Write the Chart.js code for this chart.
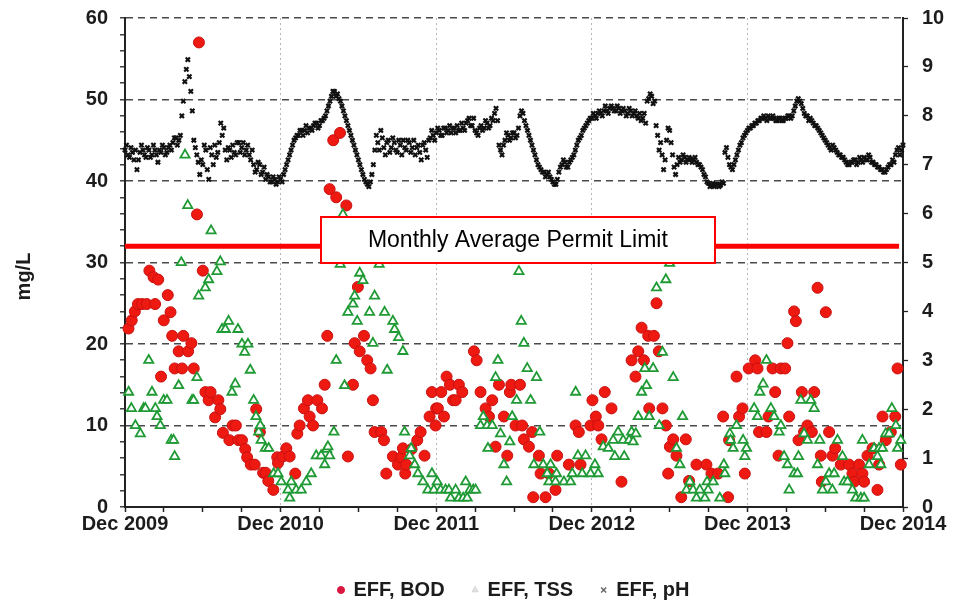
<!DOCTYPE html>
<html>
<head>
<meta charset="utf-8">
<script src="https://cdn.jsdelivr.net/npm/chart.js@4.4.1/dist/chart.umd.min.js"></script>
<style>
  html, body { margin: 0; padding: 0; background: #ffffff; }
  #wrap { width: 953px; height: 603px; }
</style>
</head>
<body>
<div id="wrap"><canvas id="chart" width="953" height="603"></canvas></div>
<script>
// Axis labels: one per December, x measured in months since Dec 2009
const yearLabels = ['Dec 2009', 'Dec 2010', 'Dec 2011', 'Dec 2012', 'Dec 2013', 'Dec 2014'];

// Effluent BOD samples: [months since Dec 2009, mg/L]
const bodSamples = [
  [0.27,21.9],[0.52,22.9],[0.76,24.0],[1.0,24.9],[1.31,24.9],[1.68,24.9],[1.88,29.0],[2.2,28.2],
  [2.32,24.9],[2.56,27.9],[2.78,16.0],[2.99,22.9],[3.3,26.0],[3.51,23.9],[3.64,21.0],[3.83,17.0],
  [4.14,19.1],[4.4,17.0],[4.5,21.0],[4.87,19.1],[5.12,20.1],[5.3,17.0],[5.55,35.9],[5.7,57.0],
  [6.0,29.0],[6.2,14.1],[6.45,13.1],[6.6,14.1],[6.95,11.0],[7.2,13.1],[7.35,12.0],[7.55,9.1],
  [8.05,8.2],[8.3,10.0],[8.55,10.0],[8.75,8.2],[9.02,8.2],[9.27,7.1],[9.42,6.1],[9.7,5.2],
  [10.0,5.2],[10.12,12.0],[10.4,9.2],[10.65,4.2],[10.85,4.2],[11.05,3.2],[11.44,2.1],[11.74,6.1],
  [11.8,5.4],[12.18,6.2],[12.44,7.2],[12.7,6.2],[13.13,4.1],[13.29,9.0],[13.47,10.0],[13.8,12.1],
  [14.11,13.1],[14.24,11.1],[14.5,10.0],[14.83,13.1],[15.19,12.1],[15.4,15.0],[15.6,21.0],[15.78,39.0],
  [16.06,45.0],[16.29,38.0],[16.58,45.9],[17.07,37.0],[17.19,6.2],[17.58,15.0],[17.71,20.1],[17.96,27.0],
  [18.1,19.1],[18.43,21.0],[18.68,18.0],[18.94,17.0],[19.12,13.1],[19.25,9.2],[19.76,9.2],[19.97,8.2],
  [20.15,4.1],[20.66,6.2],[21.05,5.2],[21.3,6.1],[21.43,7.2],[21.61,4.1],[21.69,5.2],[22.1,7.1],
  [22.54,8.2],[22.8,9.2],[23.1,6.3],[23.49,11.1],[23.67,14.1],[23.95,10.0],[24.0,12.1],[24.13,12.1],
  [24.39,14.1],[24.6,11.1],[24.8,16.0],[25.06,15.0],[25.3,13.1],[25.5,13.1],[25.75,15.0],[26.01,14.1],
  [26.91,19.1],[27.12,18.0],[27.42,14.1],[27.81,12.1],[28.07,11.1],[28.32,13.1],[28.58,7.4],[28.84,15.0],
  [29.22,11.1],[29.48,6.3],[29.68,14.1],[29.79,15.0],[30.12,10.0],[30.46,15.0],[30.63,10.0],[30.76,8.3],
  [31.15,7.4],[31.4,9.2],[31.48,1.2],[31.92,6.3],[32.05,4.1],[32.43,1.2],[32.69,4.1],[33.2,2.1],
  [33.33,6.3],[34.23,5.2],[34.75,10.0],[35.0,9.2],[35.13,5.2],[35.9,10.0],[36.05,13.1],[36.31,11.1],
  [36.5,10.0],[36.75,8.3],[37.0,14.1],[37.52,12.1],[38.29,3.1],[39.07,18.0],[39.37,16.0],[39.58,19.1],
  [39.84,22.0],[40.02,18.0],[40.35,21.0],[40.43,12.1],[40.79,21.0],[40.99,25.0],[41.17,19.1],[41.45,12.1],
  [41.71,10.0],[41.89,4.1],[42.02,7.4],[42.28,8.3],[42.53,6.3],[42.9,1.2],[43.25,8.3],[43.5,3.2],
  [44.07,5.2],[44.84,5.2],[45.23,4.1],[45.74,4.1],[46.13,11.1],[46.51,1.2],[46.59,8.2],[47.16,16.0],
  [47.36,11.1],[47.62,12.1],[47.8,4.1],[48.1,17.0],[48.6,18.0],[48.78,17.0],[48.9,9.2],[49.47,9.2],
  [49.63,11.1],[49.94,17.0],[50.14,14.1],[50.4,6.3],[50.58,17.0],[50.91,17.0],[51.09,20.1],[51.22,11.1],
  [51.6,24.0],[51.74,22.8],[51.94,8.2],[52.2,14.1],[52.37,9.2],[52.63,10.0],[52.97,9.2],[53.15,14.1],
  [53.41,26.9],[53.66,6.3],[53.74,3.1],[54.05,23.9],[54.3,9.2],[54.56,6.3],[54.77,7.2],[55.2,5.2],
  [55.84,5.2],[56.1,4.1],[56.23,3.1],[56.61,5.2],[56.87,4.1],[57.0,3.1],[57.26,6.3],[57.65,7.2],
  [58.03,2.1],[58.16,5.2],[58.42,11.1],[58.67,8.2],[59.06,9.2],[59.4,11.1],[59.58,17.0],[59.83,5.2]
];

// Effluent TSS samples: [months since Dec 2009, mg/L]
const tssSamples = [
  [0.28,14.1],[0.49,12.1],[0.8,10.0],[1.18,9.0],[1.44,12.1],[1.57,12.1],[1.83,18.0],[2.08,14.1],
  [2.34,12.1],[2.47,11.1],[2.72,10.0],[2.98,13.1],[3.24,13.1],[3.57,8.2],[3.75,8.2],[3.83,6.2],
  [4.14,14.9],[4.34,30.0],[4.63,43.2],[4.84,37.0],[5.17,13.1],[5.29,13.1],[5.55,15.9],[5.68,25.9],
  [6.19,26.9],[6.45,27.9],[6.64,33.9],[7.09,28.9],[7.35,30.1],[7.48,21.8],[7.74,21.8],[7.99,22.8],
  [8.25,14.1],[8.5,15.1],[8.71,21.8],[9.02,20.0],[9.23,19.0],[9.48,20.0],[9.66,16.8],[9.92,13.1],
  [10.1,11.1],[10.31,9.2],[10.43,10.0],[10.5,8.2],[10.82,7.2],[11.08,7.2],[11.46,4.1],[11.8,4.1],
  [12.05,3.1],[12.57,2.1],[12.7,1.1],[12.82,3.1],[13.2,2.1],[13.59,2.1],[13.98,3.1],[14.36,4.1],
  [14.75,6.3],[15.13,6.3],[15.4,5.2],[15.55,7.1],[15.65,7.4],[15.78,6.3],[16.11,9.2],[16.29,18.0],
  [16.6,29.8],[16.81,35.9],[16.93,14.9],[17.19,23.9],[17.58,24.9],[17.71,25.9],[17.91,22.8],[18.1,28.7],
  [18.35,27.8],[18.86,23.9],[19.12,20.1],[19.25,25.9],[19.6,29.8],[20.02,23.9],[20.22,16.8],[20.66,22.8],
  [20.79,21.8],[21.1,20.8],[21.43,19.1],[21.56,9.2],[21.95,6.3],[22.07,7.2],[22.34,5.2],[22.59,4.1],
  [22.98,3.1],[23.36,2.1],[23.67,4.1],[23.82,2.1],[24.08,3.1],[24.34,2.1],[24.72,2.1],[24.98,2.1],
  [25.11,1.1],[25.5,2.1],[25.75,1.1],[26.08,1.1],[26.27,3.1],[26.39,1.1],[26.6,2.1],[26.86,2.1],
  [27.04,2.1],[27.42,10.0],[27.63,11.1],[27.93,10.0],[27.99,7.2],[28.32,10.0],[28.58,15.9],[28.76,18.0],
  [28.96,9.0],[29.22,5.2],[29.43,3.1],[29.68,8.0],[29.86,11.1],[30.2,13.1],[30.38,28.9],[30.56,22.8],
  [30.76,20.1],[31.02,17.0],[31.28,13.1],[31.53,5.2],[31.74,15.9],[31.99,9.2],[32.25,5.2],[32.56,4.1],
  [32.69,3.1],[32.82,5.2],[33.2,3.1],[33.28,4.1],[33.85,3.1],[34.36,3.1],[34.49,4.1],[34.75,14.1],
  [34.93,6.3],[35.26,4.1],[35.52,6.3],[35.9,4.1],[36.24,5.2],[36.49,4.1],[36.88,7.4],[37.27,7.2],
  [37.65,8.2],[37.78,6.2],[38.03,9.2],[38.42,8.2],[38.5,6.2],[38.88,8.2],[39.07,9.2],[39.19,8.0],
  [39.4,9.0],[39.58,11.1],[39.84,14.1],[40.09,17.0],[40.22,14.9],[40.43,11.1],[40.73,17.0],[40.99,26.9],
  [41.2,10.0],[41.45,19.0],[41.71,27.9],[42.0,29.9],[42.28,15.9],[42.53,7.2],[42.79,5.2],[43.0,11.1],
  [43.3,2.1],[43.56,3.1],[43.81,2.1],[44.07,1.1],[44.33,2.1],[44.72,1.1],[44.89,3.1],[44.97,2.1],
  [45.36,3.1],[45.87,1.1],[46.18,5.2],[46.26,4.1],[46.65,9.0],[46.7,8.2],[46.9,7.2],[47.16,10.0],
  [47.67,8.2],[47.8,6.2],[47.93,7.2],[48.52,12.1],[48.78,11.1],[48.96,14.1],[49.21,15.1],[49.47,18.0],
  [49.81,12.1],[50.06,11.1],[50.45,9.2],[50.58,10.0],[50.83,6.2],[51.09,5.2],[51.22,2.1],[51.6,4.1],
  [51.86,4.1],[51.94,6.2],[52.12,13.1],[52.37,9.0],[52.63,8.2],[52.89,13.1],[53.15,12.1],[53.41,5.2],
  [53.58,8.2],[53.79,2.1],[54.05,3.1],[54.3,4.1],[54.56,2.1],[54.69,4.1],[54.95,8.2],[55.33,6.2],
  [55.46,3.1],[55.72,3.1],[56.1,2.1],[56.36,1.1],[56.75,1.1],[56.87,8.2],[57.0,1.1],[57.39,5.2],
  [57.77,7.2],[58.03,6.2],[58.16,7.2],[58.29,5.2],[58.42,7.2],[58.67,9.0],[58.93,9.0],[59.14,12.1],
  [59.45,10.0],[59.58,7.2],[59.83,8.2]
];

// Effluent pH, start-of-week readings from Dec 2009 (right axis)
const phWeekly = [
  7.30,7.20,7.35,7.10,6.90,7.25,7.30,7.15,7.30,7.20,
  7.30,7.05,7.25,7.35,7.25,7.40,7.45,7.55,7.50,8.00,
  8.70,9.15,8.50,7.50,7.20,6.80,7.00,7.30,6.70,7.20,
  7.40,7.25,7.85,7.75,7.10,7.30,7.40,7.20,7.45,7.35,
  7.20,7.40,7.10,7.00,6.90,7.00,6.85,6.70,6.75,6.65,
  6.70,6.65,6.70,6.80,7.00,7.20,7.40,7.55,7.60,7.70,
  7.70,7.65,7.75,7.80,7.85,7.80,7.90,8.00,8.20,8.40,
  8.50,8.45,8.30,8.10,7.90,7.70,7.50,7.30,7.10,6.90,
  6.70,6.60,6.65,7.00,7.60,7.30,7.55,7.20,7.50,7.35,
  7.45,7.25,7.40,7.50,7.30,7.45,7.35,7.20,7.40,7.10,
  7.45,7.15,7.55,7.60,7.65,7.70,7.60,7.75,7.70,7.65,
  7.75,7.80,7.70,7.75,7.85,7.95,7.80,7.70,7.60,7.80,
  7.75,7.85,7.80,7.90,8.15,7.40,7.20,7.50,7.60,7.55,
  7.65,7.60,8.00,8.05,7.80,7.60,7.40,7.20,7.00,6.90,
  6.85,6.80,6.75,6.65,6.60,6.85,7.00,7.05,6.95,7.10,
  7.20,7.40,7.55,7.70,7.80,7.90,7.95,8.00,8.05,8.05,
  8.10,8.10,8.15,8.15,8.10,8.15,8.10,8.10,8.05,8.10,
  8.05,8.00,8.05,7.95,7.85,8.35,8.40,8.30,7.60,7.45,
  6.90,7.50,7.70,7.20,6.80,7.15,7.10,7.15,7.10,7.12,
  7.10,7.05,7.00,6.90,6.75,6.62,6.58,6.55,6.60,6.58,
  6.62,7.35,7.00,6.90,7.10,7.30,7.45,7.60,7.70,7.75,
  7.80,7.85,7.90,7.95,7.95,8.00,7.95,7.95,7.90,7.95,
  7.90,7.95,8.00,8.00,8.20,8.35,8.25,8.05,8.00,7.95,
  7.85,7.80,7.70,7.60,7.50,7.40,7.30,7.35,7.25,7.20,
  7.15,7.05,7.00,7.05,7.10,7.05,7.10,7.15,7.10,7.15,
  7.05,7.00,6.95,6.90,6.85,6.95,7.00,7.05,7.30,7.20,
  7.40
];

// Effluent pH, mid-week readings (half a week after each start-of-week reading)
const phMidweek = [
  7.40,7.15,7.25,7.30,7.10,7.40,7.20,7.35,7.15,7.40,
  7.20,7.30,7.40,7.20,7.35,7.30,7.55,7.40,7.60,8.30,
  8.95,8.80,8.10,7.35,7.05,7.10,7.40,6.90,7.35,7.00,
  7.15,7.45,7.60,7.30,7.35,7.15,7.25,7.45,7.25,7.45,
  7.30,7.20,7.30,6.85,7.05,6.80,6.95,6.80,6.65,6.75,
  6.60,6.75,6.65,6.90,7.10,7.30,7.50,7.60,7.70,7.60,
  7.80,7.75,7.70,7.85,7.75,7.90,7.95,8.10,8.30,8.50,
  8.40,8.35,8.20,8.00,7.80,7.60,7.40,7.20,7.00,6.80,
  6.65,6.55,6.80,7.30,7.45,7.70,7.35,7.45,7.25,7.55,
  7.30,7.50,7.20,7.35,7.50,7.25,7.50,7.35,7.25,7.40,
  7.30,7.50,7.70,7.50,7.75,7.60,7.75,7.65,7.80,7.75,
  7.65,7.70,7.85,7.70,7.90,7.80,7.95,7.65,7.75,7.70,
  7.90,7.75,7.95,8.05,7.90,7.30,7.40,7.65,7.50,7.65,
  7.55,7.75,8.10,7.90,7.70,7.50,7.30,7.10,6.95,6.85,
  6.75,6.85,6.70,6.60,6.70,6.95,7.10,6.95,7.05,7.15,
  7.30,7.50,7.60,7.75,7.85,7.95,8.05,7.95,8.10,8.00,
  8.20,8.05,8.20,8.10,8.20,8.05,8.15,8.00,8.15,8.00,
  8.10,7.95,7.90,8.05,8.30,8.45,8.25,7.80,7.30,7.20,
  7.10,7.75,7.45,6.95,7.00,7.05,7.20,7.05,7.15,7.05,
  7.15,7.00,6.95,6.80,6.65,6.55,6.62,6.60,6.55,6.65,
  7.25,7.15,6.95,7.00,7.20,7.40,7.55,7.65,7.75,7.80,
  7.85,7.90,7.95,8.00,7.90,7.95,8.00,7.90,7.95,7.90,
  7.95,8.00,7.95,8.10,8.30,8.30,8.15,8.00,7.90,7.90,
  7.80,7.75,7.65,7.55,7.45,7.35,7.40,7.30,7.20,7.15,
  7.10,7.00,7.05,7.10,7.00,7.15,7.05,7.10,7.20,7.05,
  7.00,6.95,6.90,6.85,6.90,7.00,7.10,7.20,7.35,7.30
];

// Monthly average permit limit, mg/L
const PERMIT_LIMIT = 32;
const PERMIT_TEXT = 'Monthly Average Permit Limit';
const PERMIT_LINE_END = 59.7;     // months
const PERMIT_BOX_CENTER = 30.3;   // months

const FONT = '"Liberation Sans", Arial, Helvetica, sans-serif';
const INK = '#1c1c1c';
const MONTHS_PER_WEEK = 12 / 52;

const toXY = (pairs) => pairs.map(([m, v]) => ({ x: m, y: v }));

const phPoints = phWeekly.map((v, i) => ({ x: i * MONTHS_PER_WEEK, y: v }))
  .concat(phMidweek.map((v, i) => ({ x: (i + 0.5) * MONTHS_PER_WEEK, y: v })));

// Vertical axes: fixed widths, and no extra top/bottom room for the end labels
const fixVertical = (width) => (s) => {
  s.width = width;
  s.paddingTop = 0;
  s.paddingBottom = 0;
};

// Permit label box drawn on top of the plotted series
const permitLabel = {
  id: 'permitLabel',
  afterDatasetsDraw(chart) {
    const { ctx, scales } = chart;
    const yPix = scales.y.getPixelForValue(PERMIT_LIMIT);
    const cx = scales.x.getPixelForValue(PERMIT_BOX_CENTER);
    const w = 396, h = 48;
    const left = Math.round(cx - w / 2), top = Math.round(yPix - 6 - h / 2);
    ctx.save();
    ctx.fillStyle = '#ffffff';
    ctx.fillRect(left, top, w, h);
    ctx.strokeStyle = '#ff0000';
    ctx.lineWidth = 2;
    ctx.strokeRect(left + 1, top + 1, w - 2, h - 2);
    ctx.fillStyle = '#000000';
    ctx.font = '23px ' + FONT;
    ctx.textAlign = 'center';
    ctx.textBaseline = 'middle';
    ctx.fillText(PERMIT_TEXT, cx, top + h / 2 + 1);
    ctx.restore();
  }
};

// Left axis title, rotated
const leftTitle = {
  id: 'leftTitle',
  afterDraw(chart) {
    const { ctx, chartArea } = chart;
    ctx.save();
    ctx.translate(24, (chartArea.top + chartArea.bottom) / 2 + 14);
    ctx.rotate(-Math.PI / 2);
    ctx.font = 'bold 20px ' + FONT;
    ctx.fillStyle = INK;
    ctx.textAlign = 'center';
    ctx.textBaseline = 'middle';
    ctx.fillText('mg/L', 0, 0);
    ctx.restore();
  }
};

const transparent = 'rgba(0,0,0,0)';

new Chart(document.getElementById('chart'), {
  type: 'scatter',
  data: {
    datasets: [
      {
        label: 'Permit limit',
        type: 'line',
        data: [{ x: 0, y: PERMIT_LIMIT }, { x: PERMIT_LINE_END, y: PERMIT_LIMIT }],
        borderColor: '#ff0000',
        borderWidth: 5,
        pointRadius: 0,
        showLine: true,
        yAxisID: 'y',
        order: 0
      },
      {
        label: 'EFF, pH',
        data: phPoints,
        yAxisID: 'y1',
        pointStyle: 'crossRot',
        pointRadius: 3,
        borderColor: '#111111',
        backgroundColor: '#111111',
        borderWidth: 2.2,
        clip: false,
        order: 1
      },
      {
        label: 'EFF, TSS',
        data: toXY(tssSamples),
        yAxisID: 'y',
        pointStyle: 'triangle',
        pointRadius: 5.3,
        borderColor: '#1f9a35',
        backgroundColor: '#ffffff',
        borderWidth: 1.8,
        clip: false,
        order: 2
      },
      {
        label: 'EFF, BOD',
        data: toXY(bodSamples),
        yAxisID: 'y',
        pointStyle: 'circle',
        pointRadius: 5.5,
        borderColor: '#c81010',
        backgroundColor: '#ee1a12',
        borderWidth: 1,
        clip: false,
        order: 3
      }
    ]
  },
  options: {
    responsive: false,
    animation: false,
    devicePixelRatio: 1,
    layout: { padding: { top: 18, left: 0, right: 0, bottom: -7 } },
    scales: {
      x: {
        type: 'linear',
        position: 'bottom',
        min: 0,
        max: 60,
        afterFit: (s) => { s.height = 45; },
        ticks: {
          stepSize: 3,
          autoSkip: false,
          maxRotation: 0,
          padding: 0,
          color: INK,
          font: { family: FONT, size: 20, weight: 'bold' },
          callback: (v) => (v % 12 === 0 ? yearLabels[v / 12] : '')
        },
        grid: {
          color: (c) => (c.tick && c.tick.value % 12 === 0 && c.tick.value > 0 && c.tick.value < 60) ? '#b5b5b5' : transparent,
          lineWidth: 1,
          tickColor: '#222222',
          tickLength: 5,
          tickWidth: 1.5
        },
        border: { display: true, color: '#222222', width: 2, dash: [2, 3] }
      },
      y: {
        type: 'linear',
        position: 'left',
        min: 0,
        max: 60,
        afterFit: fixVertical(125),
        ticks: {
          stepSize: 2,
          autoSkip: false,
          padding: 12,
          color: INK,
          font: { family: FONT, size: 20, weight: 'bold' },
          callback: (v) => (v % 10 === 0 ? String(v) : '')
        },
        grid: {
          color: (c) => (c.tick && c.tick.value % 10 === 0 && c.tick.value > 0) ? '#4a4a4a' : transparent,
          lineWidth: 1.6,
          tickColor: '#222222',
          tickLength: 5,
          tickWidth: 1.3
        },
        border: { display: true, color: '#222222', width: 2, dash: [7, 5] }
      },
      y1: {
        type: 'linear',
        position: 'right',
        min: 0,
        max: 10,
        afterFit: fixVertical(50),
        ticks: {
          stepSize: 1,
          padding: 14,
          color: INK,
          font: { family: FONT, size: 20, weight: 'bold' }
        },
        grid: {
          drawOnChartArea: false,
          tickColor: '#222222',
          tickLength: 5,
          tickWidth: 1.3
        },
        border: { display: true, color: '#222222', width: 2 }
      }
    },
    plugins: {
      tooltip: { enabled: false },
      legend: {
        position: 'bottom',
        fullSize: false,
        labels: {
          usePointStyle: true,
          boxWidth: 5,
          boxHeight: 5,
          padding: 28,
          color: INK,
          font: { family: FONT, size: 20, weight: 'bold' },
          generateLabels: () => [
            { text: 'EFF, BOD', fillStyle: '#d8183f', strokeStyle: '#d8183f', lineWidth: 1, pointStyle: 'circle', datasetIndex: 3, hidden: false, fontColor: INK },
            { text: 'EFF, TSS', fillStyle: '#e4e4e4', strokeStyle: '#d4d4d4', lineWidth: 1, pointStyle: 'triangle', datasetIndex: 2, hidden: false, fontColor: INK },
            { text: 'EFF, pH', fillStyle: '#666666', strokeStyle: '#666666', lineWidth: 1.5, pointStyle: 'crossRot', datasetIndex: 1, hidden: false, fontColor: INK }
          ]
        }
      }
    }
  },
  plugins: [permitLabel, leftTitle]
});
</script>
</body>
</html>
